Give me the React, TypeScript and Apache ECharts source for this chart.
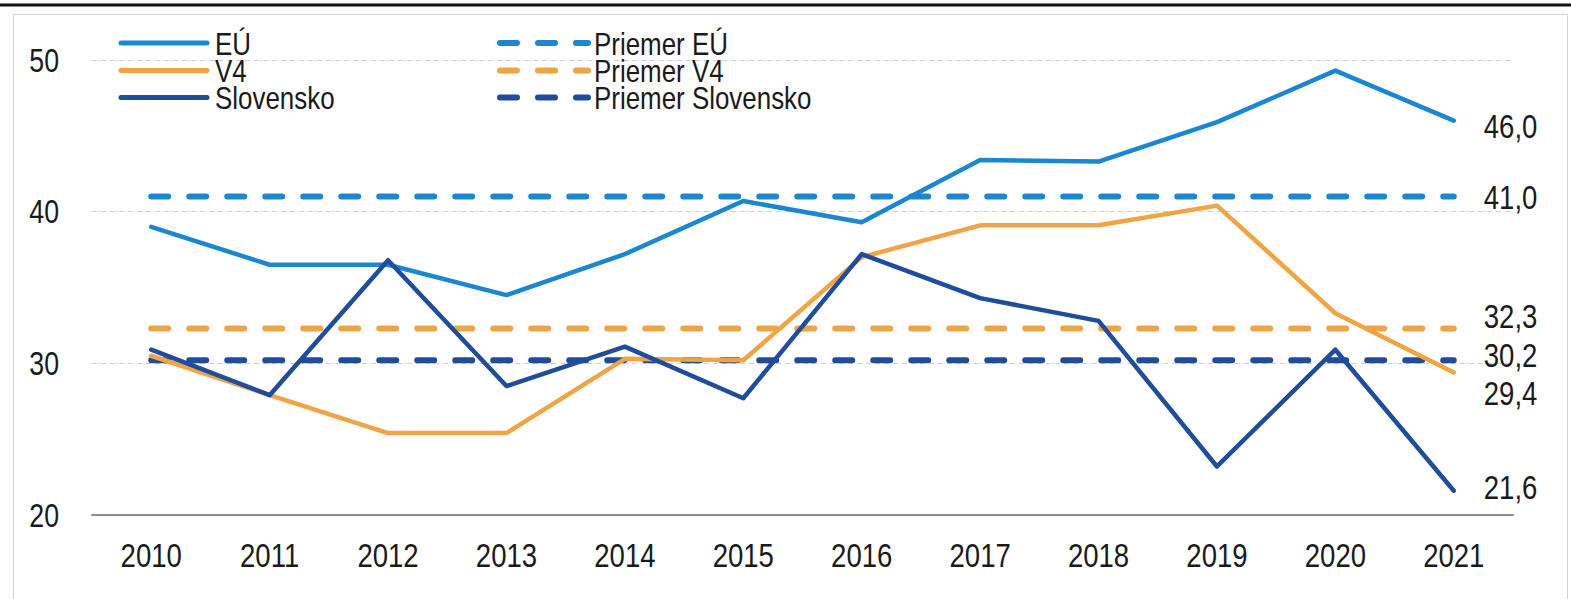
import React, { useEffect, useRef } from "react";
import * as echarts from "echarts";

const years = ["2010", "2011", "2012", "2013", "2014", "2015", "2016", "2017", "2018", "2019", "2020", "2021"];
const yTicks = [20, 30, 40, 50];
const eu = [39.0, 36.5, 36.5, 34.5, 37.2, 40.7, 39.3, 43.4, 43.3, 45.9, 49.3, 46.0];
const v4 = [30.5, 27.9, 25.4, 25.4, 30.3, 30.2, 37.0, 39.1, 39.1, 40.4, 33.3, 29.4];
const sk = [30.9, 27.9, 36.8, 28.5, 31.1, 27.7, 37.2, 34.3, 32.8, 23.2, 30.9, 21.6];
const avgEu = 41.0;
const avgV4 = 32.3;
const avgSk = 30.2;
const seriesNames = ["EÚ", "V4", "Slovensko", "Priemer EÚ", "Priemer V4", "Priemer Slovensko"];

const C_EU = "#1a87d0";
const C_V4 = "#f0a446";
const C_SK = "#1f4c9b";
const COLORS = [C_EU, C_V4, C_SK, C_EU, C_V4, C_SK];
const FONT = "'Liberation Sans', Arial, sans-serif";
const TXT = "#1a1a1a";
const SQUEEZE = 0.81;
const DASH = [17, 21];

const fmt = (v: number) => v.toFixed(1).replace(".", ",");

export default function App() {
  const ref = useRef<HTMLDivElement>(null);
  useEffect(() => {
    document.body.style.margin = "0";
    const chart = echarts.init(ref.current!, null, { renderer: "svg" });
    const solid = (name: string, color: string, values: number[]) => ({
      name,
      type: "line",
      data: values,
      symbol: "none",
      lineStyle: { color, width: 4.5, cap: "round", join: "round" },
      itemStyle: { color },
      z: 3,
    });
    const dashed = (name: string, color: string, v: number) => ({
      name,
      type: "line",
      data: years.map(() => v),
      symbol: "none",
      lineStyle: { color, width: 6, type: DASH, cap: "round" },
      itemStyle: { color },
      z: 2,
    });
    const allSeries = [
      solid(seriesNames[0], C_EU, eu),
      solid(seriesNames[1], C_V4, v4),
      solid(seriesNames[2], C_SK, sk),
      dashed(seriesNames[3], C_EU, avgEu),
      dashed(seriesNames[4], C_V4, avgV4),
      dashed(seriesNames[5], C_SK, avgSk),
    ];
    const baseGraphic: any[] = [
      { id: "topline", type: "line", shape: { x1: 0, y1: 5, x2: 1571, y2: 5 }, style: { stroke: "#111", lineWidth: 3 } },
      { id: "frame", type: "rect", shape: { x: 13.5, y: 14.5, width: 1554, height: 600 }, style: { fill: "none", stroke: "#d4d4d4", lineWidth: 1 } },
    ];
    chart.setOption({
      animation: false,
      backgroundColor: "#ffffff",
      textStyle: { fontFamily: FONT },
      graphic: baseGraphic,
      grid: { left: 92, right: 58, top: 60, bottom: 84 },
      xAxis: {
        type: "category",
        data: years,
        boundaryGap: true,
        axisLine: { lineStyle: { color: "#8c8c8c", width: 2 } },
        axisTick: { show: false },
        axisLabel: { show: false },
      },
      yAxis: {
        type: "value",
        min: yTicks[0],
        max: yTicks[yTicks.length - 1],
        interval: 10,
        axisLine: { show: false },
        axisTick: { show: false },
        axisLabel: { show: false },
        splitLine: { lineStyle: { color: "#cfcfcf", type: [5, 4], width: 1 } },
      },
      series: allSeries,
    });

    const squeezedText = (id: string, text: string, x: number, y: number, align: string, size: number) => ({
      id,
      type: "text",
      x,
      y,
      scaleX: SQUEEZE,
      z: 10,
      style: {
        text,
        x: 0,
        y: 0,
        textAlign: align,
        textVerticalAlign: "middle",
        fontSize: size,
        fontFamily: FONT,
        fill: TXT,
      },
    });

    const g: any[] = [...baseGraphic];
    const axisY = chart.convertToPixel({ yAxisIndex: 0 }, yTicks[0]) as number;
    years.forEach((yr, i) => {
      const px = chart.convertToPixel({ xAxisIndex: 0 }, yr) as number;
      g.push(squeezedText("xl" + i, yr, px, axisY + 40, "center", 34));
    });
    yTicks.forEach((t, i) => {
      const py = chart.convertToPixel({ yAxisIndex: 0 }, t) as number;
      g.push(squeezedText("yl" + i, String(t), 59, py, "right", 33));
    });
    // end-of-line value labels
    const endVals = [eu[eu.length - 1], v4[v4.length - 1], sk[sk.length - 1], avgEu, avgV4, avgSk];
    const endDy = [6, 21, -3, 1, -12, -5];
    const last = years.length - 1;
    endVals.forEach((v, i) => {
      const p = chart.convertToPixel({ seriesIndex: i }, [last, v]) as number[];
      g.push(squeezedText("el" + i, fmt(v), p[0] + 30, p[1] + endDy[i], "left", 34));
    });
    // legend
    const rowY = [43, 70.5, 97.5];
    for (let i = 0; i < 3; i++) {
      g.push({
        id: "lgl" + i,
        type: "line",
        shape: { x1: 121, y1: rowY[i], x2: 207, y2: rowY[i] },
        style: { stroke: COLORS[i], lineWidth: 5, lineCap: "round" },
      });
      g.push(squeezedText("lgt" + i, seriesNames[i], 215, rowY[i] + 1, "left", 32));
      g.push({
        id: "lgd" + i,
        type: "line",
        shape: { x1: 500, y1: rowY[i], x2: 588, y2: rowY[i] },
        style: { stroke: COLORS[i + 3], lineWidth: 6, lineCap: "round", lineDash: DASH },
      });
      g.push(squeezedText("lgdt" + i, seriesNames[i + 3], 594, rowY[i] + 1, "left", 32));
    }
    chart.setOption({ graphic: g });
    return () => chart.dispose();
  }, []);
  return <div ref={ref} style={{ width: 1571, height: 599 }} />;
}
